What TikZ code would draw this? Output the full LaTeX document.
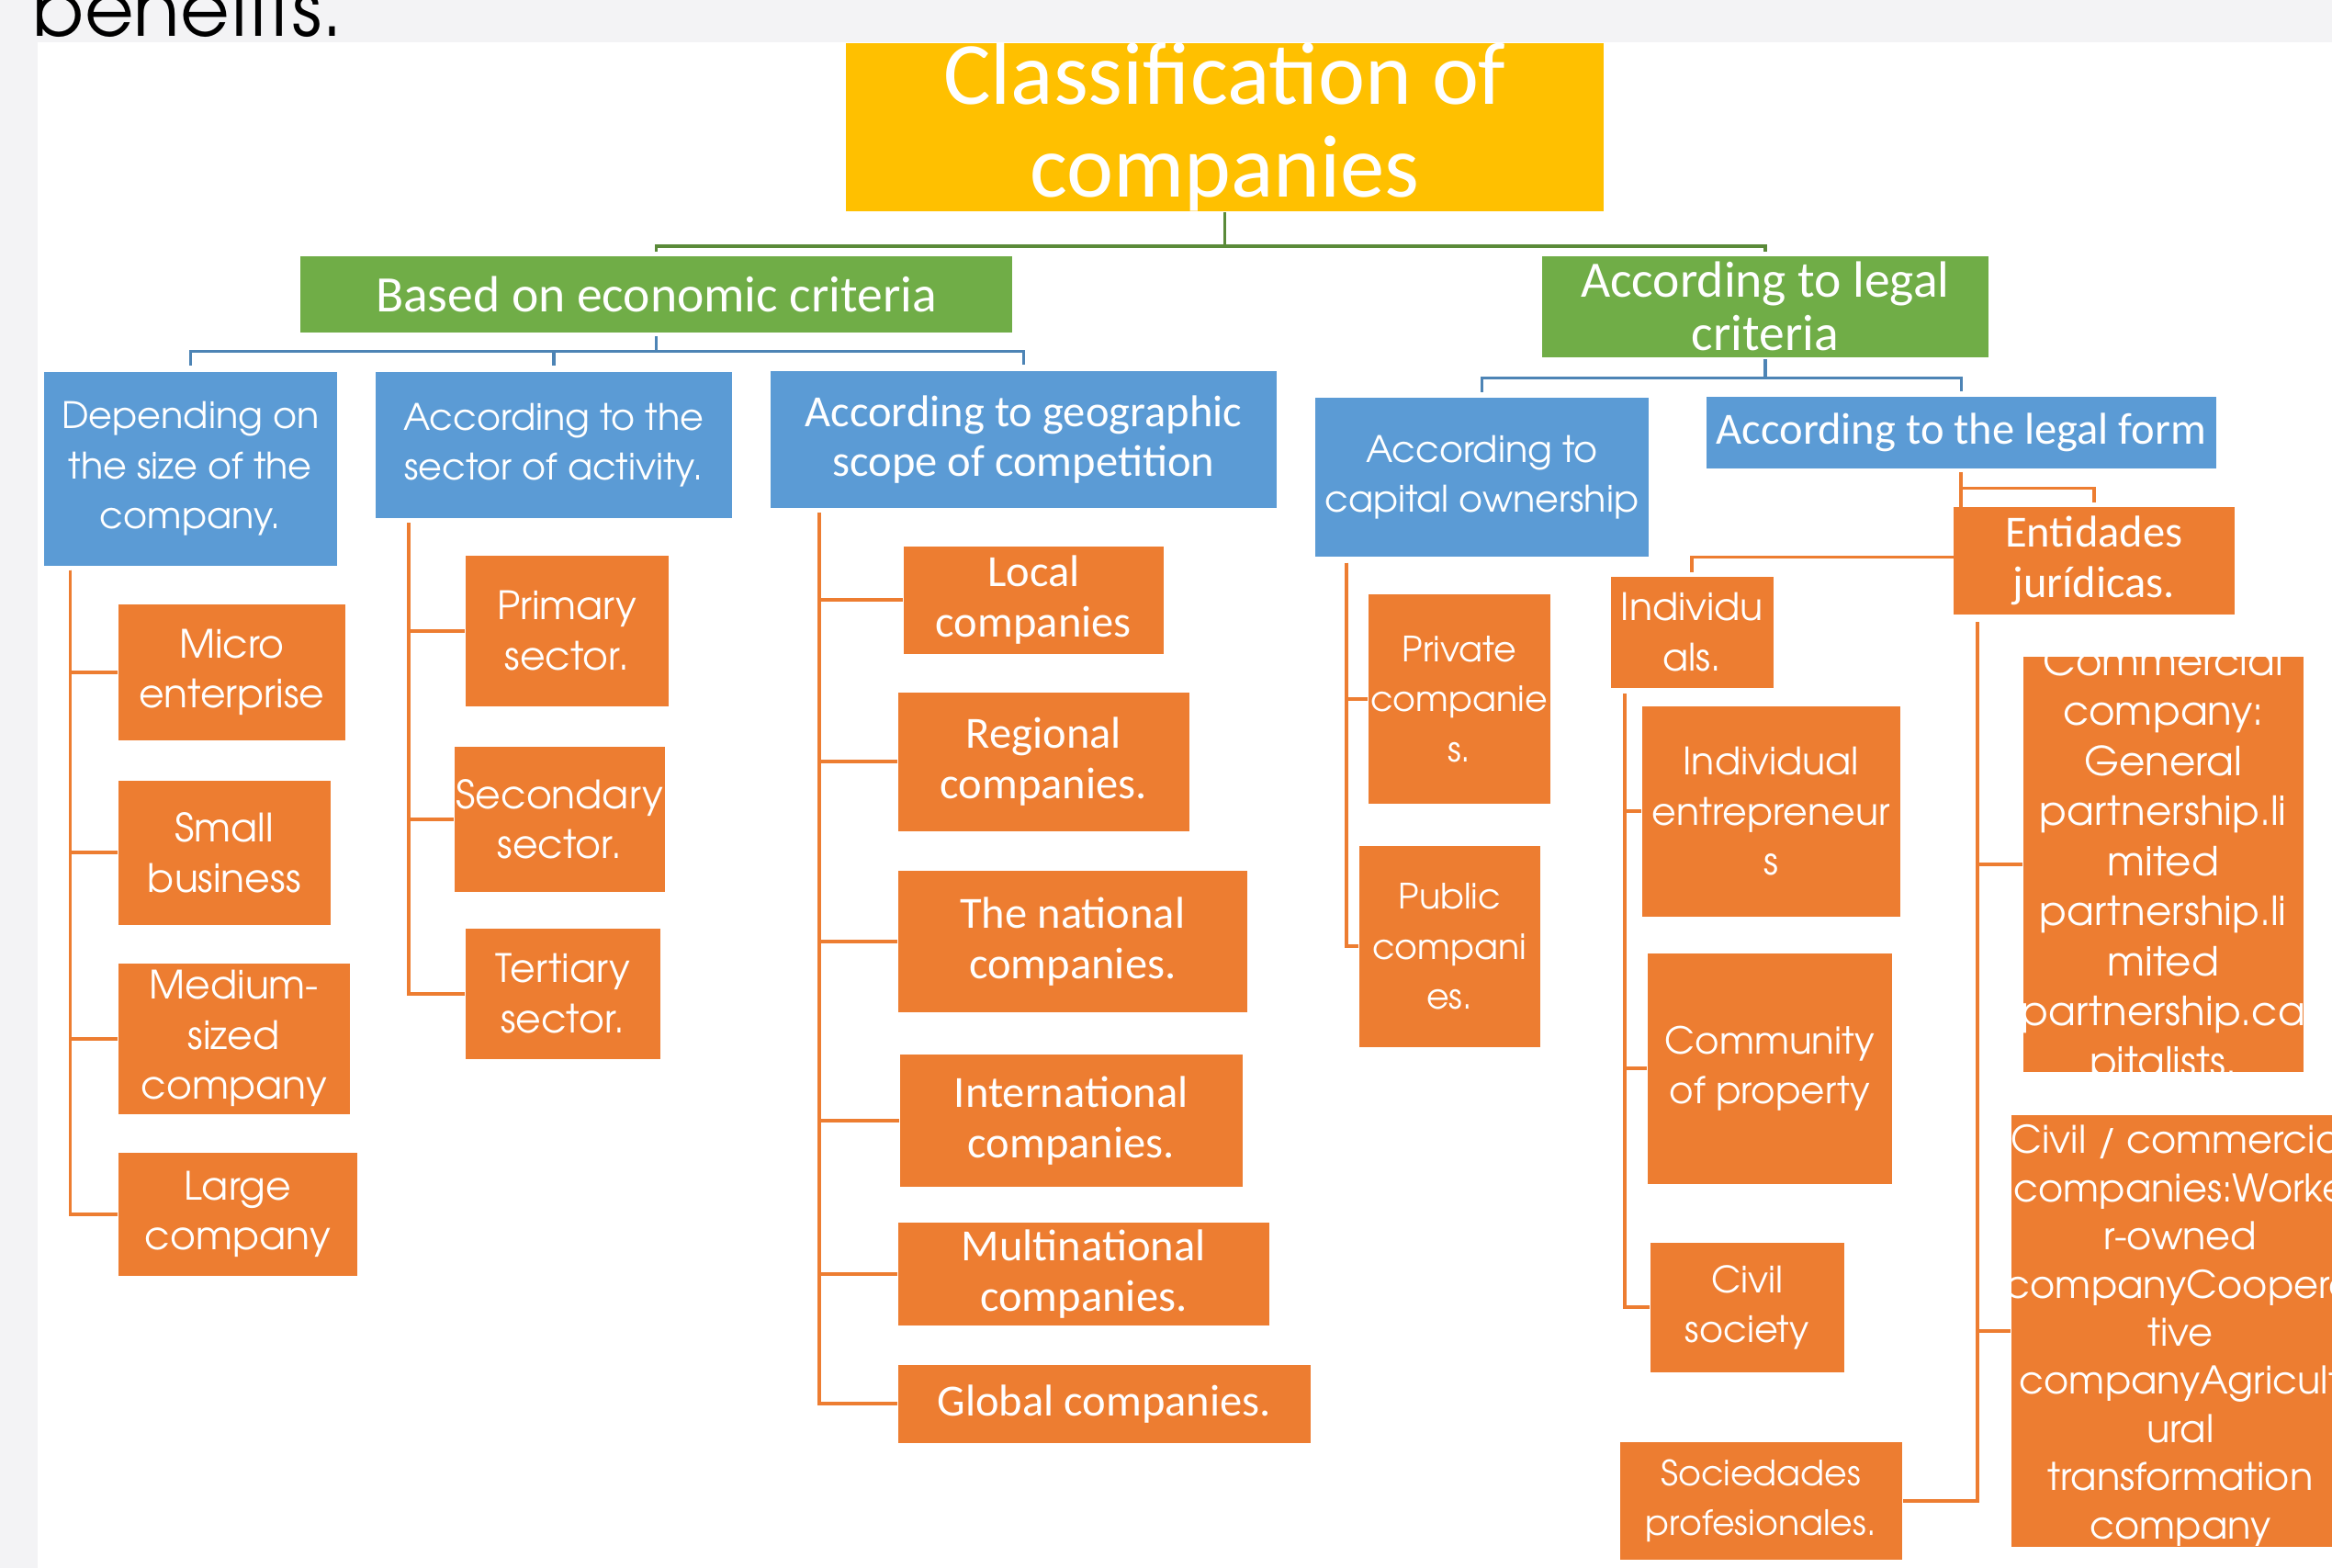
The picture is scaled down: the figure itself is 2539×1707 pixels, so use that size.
\documentclass[tikz,border=0pt]{standalone}
\usepackage{fontspec}
\setmainfont{Carlito}
\newfontfamily\gothic{TeX Gyre Adventor}
\usepackage{tikz}
\definecolor{mygold}{RGB}{255,192,0}
\definecolor{mygreen}{RGB}{112,173,71}
\definecolor{myblue}{RGB}{91,155,213}
\definecolor{myorange}{RGB}{237,125,49}
\definecolor{mystrip}{RGB}{243,243,245}
\pgfdeclarelayer{wires}
\pgfdeclarelayer{strip}
\pgfsetlayers{wires,main,strip}
\tikzset{
    common/.style={anchor=north west, rectangle, inner sep=0pt, align=center, text=white},
    title/.style={common, fill=mygold, font=\fontsize{27.5pt}{28.7pt}\selectfont},
    crit/.style={common, fill=mygreen, font=\fontsize{15.8pt}{16.5pt}\selectfont},
    head/.style={common, fill=myblue, font=\fontsize{13.8pt}{15.4pt}\selectfont},
    gothichead/.style={common, fill=myblue, font=\gothic\fontsize{11.3pt}{15.4pt}\selectfont},
    leaf/.style={common, fill=myorange, font=\fontsize{13.8pt}{15.6pt}\selectfont},
    gothicleaf/.style={common, fill=myorange, font=\gothic\fontsize{#1}{15.5pt}\selectfont},
    gothicleaf/.default=12.1pt,
    greenline/.style={draw=mygreen!80!black, line width=1pt},
    blueline/.style={draw=myblue!85!black, line width=1pt},
    orangeline/.style={draw=myorange, line width=1.1pt}
}

\begin{document}
\begin{tikzpicture}[x=0.01cm, y=-0.01cm]
    \useasboundingbox (0,0) rectangle (2539,1707);

    % top levels
    \node[title, minimum width=8.25cm, minimum height=1.74cm] (title) at (920,46) {Classification of\\companies};
    \node[crit, minimum width=7.75cm, minimum height=0.83cm] (econ-crit) at (326,278) {Based on economic criteria};
    \node[crit, minimum width=4.86cm, minimum height=1.10cm] (legal-crit) at (1678,278) {According to legal\\criteria};

    \node[gothichead, minimum width=3.19cm, minimum height=2.11cm] (size-head) at (47,404) {Depending on\\the size of the\\company.};
    \node[gothichead, minimum width=3.88cm, minimum height=1.59cm] (sector-head) at (408,404) {According to the\\sector of activity.};
    \node[head, minimum width=5.51cm, minimum height=1.49cm] (geo-head) at (838,403) {According to geographic\\scope of competition};
    \node[gothichead, minimum width=3.63cm, minimum height=1.73cm] (capital-head) at (1431,432) {According to\\capital ownership};
    \node[head, minimum width=5.55cm, minimum height=0.78cm] (legal-form) at (1857,431) {According to the legal form};

    % size of the company
    \node[gothicleaf, minimum width=2.47cm, minimum height=1.48cm] (micro) at (128,657) {Micro\\enterprise};
    \node[gothicleaf, minimum width=2.31cm, minimum height=1.57cm] (small) at (128,849) {Small\\business};
    \node[gothicleaf, minimum width=2.52cm, minimum height=1.64cm] (medium) at (128,1048) {Medium-\\sized\\company};
    \node[gothicleaf, minimum width=2.60cm, minimum height=1.34cm] (large) at (128,1254) {Large\\company};

    % sector of activity
    \node[gothicleaf, minimum width=2.21cm, minimum height=1.64cm] (primary) at (506,604) {Primary\\sector.};
    \node[gothicleaf, minimum width=2.29cm, minimum height=1.58cm] (secondary) at (494,812) {Secondary\\sector.};
    \node[gothicleaf, minimum width=2.12cm, minimum height=1.42cm] (tertiary) at (506,1010) {Tertiary\\sector.};

    % geographic scope
    \node[leaf, minimum width=2.83cm, minimum height=1.17cm] (local) at (983,594) {Local\\companies};
    \node[leaf, minimum width=3.17cm, minimum height=1.51cm] (regional) at (977,753) {Regional\\companies.};
    \node[leaf, minimum width=3.80cm, minimum height=1.54cm] (national) at (977,947) {The national\\companies.};
    \node[leaf, minimum width=3.73cm, minimum height=1.44cm] (international) at (979,1147) {International\\companies.};
    \node[leaf, minimum width=4.04cm, minimum height=1.12cm] (multinational) at (977,1330) {Multinational\\companies.};
    \node[leaf, minimum width=4.49cm, minimum height=0.85cm] (global) at (977,1485) {Global companies.};

    % capital ownership
    \node[gothicleaf=10.8pt, minimum width=1.98cm, minimum height=2.28cm] (private) at (1489,646) {Private\\companie\\s.};
    \node[gothicleaf=10.8pt, minimum width=1.97cm, minimum height=2.19cm] (public) at (1479,920) {Public\\compani\\es.};

    % legal form
    \node[leaf, minimum width=3.06cm, minimum height=1.17cm] (entidades) at (2126,551) {Entidades\\jurídicas.};
    \node[gothicleaf=11.7pt, minimum width=1.77cm, minimum height=1.21cm] (individuals) at (1753,627) {Individu\\als.};
    \node[gothicleaf=11.7pt, minimum width=2.81cm, minimum height=2.29cm] (entrepreneurs) at (1787,768) {Individual\\entrepreneur\\s};
    \node[gothicleaf=11.5pt, minimum width=2.66cm, minimum height=2.51cm] (community) at (1793,1037) {Community\\of property};
    \node[gothicleaf=11.3pt, minimum width=2.11cm, minimum height=1.41cm] (civil-society) at (1796,1352) {Civil\\society};
    \node[gothicleaf=10.8pt, minimum width=3.07cm, minimum height=1.28cm] (sociedades) at (1763,1569) {Sociedades\\profesionales.};
    \node[gothicleaf, minimum width=3.05cm, minimum height=4.52cm,
        path picture={
            \node[anchor=center, align=center, text=white, inner sep=0pt, font=\gothic\fontsize{12.4pt}{15.5pt}\selectfont]
                at (path picture bounding box.center)
                {Commercial\\company:\\General\\partnership.li\\mited\\partnership.li\\mited\\partnership.ca\\pitalists.};
        }] (commercial) at (2202,714) {};
    \node[gothicleaf, minimum width=3.62cm, minimum height=4.70cm,
        path picture={
            \node[anchor=center, align=center, text=white, inner sep=0pt, font=\gothic\fontsize{11.8pt}{14.9pt}\selectfont]
                at ([xshift=0.03cm, yshift=-0.05cm]path picture bounding box.center)
                {Civil / commercial\\companies:Worke\\r-owned\\companyCoopera\\tive\\companyAgricult\\ural\\transformation\\company};
        }] (civil-comm) at (2189,1213) {};

    \begin{pgfonlayer}{wires}
        \fill[white] (0,0) rectangle (2539,1707);

        \draw[greenline] (title.south) -- ++(0,37) -| ([yshift=0.04cm]econ-crit.north);
        \draw[greenline] (title.south) -- ++(0,37) -| ([yshift=0.04cm]legal-crit.north);

        \foreach \h in {size-head, sector-head, geo-head}
            \draw[blueline] ([yshift=-0.04cm]econ-crit.south) -- ++(0,16) -| ([yshift=0.06cm]\h.north);
        \foreach \h in {capital-head, legal-form}
            \draw[blueline] ([yshift=-0.02cm]legal-crit.south) -- ++(0,20) -| ([yshift=0.05cm]\h.north);

        \foreach \c in {micro, small, medium, large}
            \draw[orangeline] ([xshift=0.295cm, yshift=-0.04cm]size-head.south west) |- (\c.west);
        \foreach \c in {primary, secondary, tertiary}
            \draw[orangeline] ([xshift=0.37cm, yshift=-0.05cm]sector-head.south west) |- (\c.west);
        \foreach \c in {local, regional, national, international, multinational, global}
            \draw[orangeline] ([xshift=0.54cm, yshift=-0.05cm]geo-head.south west) |- (\c.west);
        \foreach \c in {private, public}
            \draw[orangeline] ([xshift=0.35cm, yshift=-0.06cm]capital-head.south west) |- (\c.west);

        \draw[orangeline] ([yshift=-0.04cm]legal-form.south) -- ++(0,17) -| ([yshift=0.04cm]entidades.north);
        \draw[orangeline] ([yshift=-0.04cm]legal-form.south) -- ++(0,92) -| ([yshift=0.04cm]individuals.north);

        \foreach \c in {entrepreneurs, community, civil-society}
            \draw[orangeline] ([xshift=0.16cm, yshift=-0.06cm]individuals.south west) |- (\c.west);
        \foreach \c in {commercial, civil-comm}
            \draw[orangeline] ([xshift=0.27cm, yshift=-0.08cm]entidades.south west) |- (\c.west);
        \draw[orangeline] ([xshift=0.27cm, yshift=-0.08cm]entidades.south west) |- (sociedades.east);
    \end{pgfonlayer}

    \begin{pgfonlayer}{strip}
        \fill[mystrip] (0,0) rectangle (2539,45.6);
        \fill[mystrip] (0,0) rectangle (41,1707);
        \node[anchor=base west, inner sep=0pt, font=\gothic\fontsize{23.5pt}{24pt}\selectfont] (benefits) at (35,40) {benefits.};
    \end{pgfonlayer}
\end{tikzpicture}
\end{document}
